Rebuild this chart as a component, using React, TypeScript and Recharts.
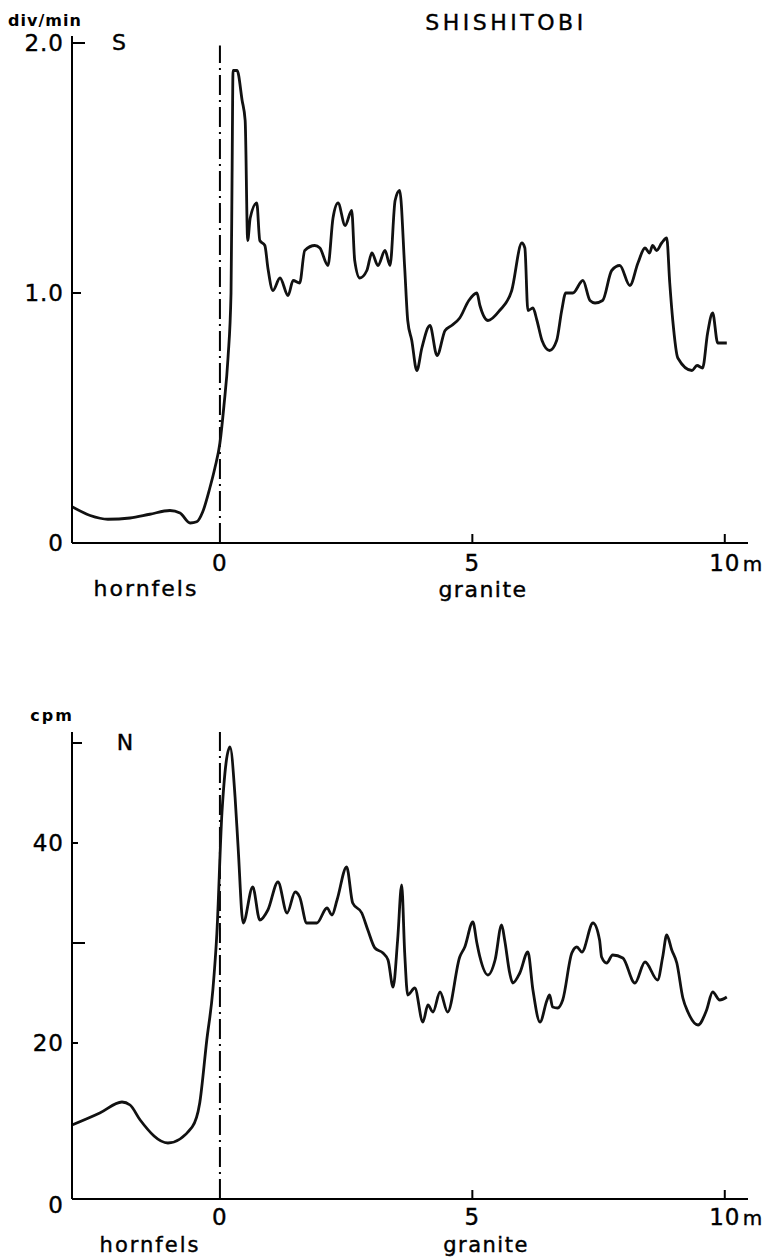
import React from 'react';
import { LineChart, Line, XAxis, YAxis, ReferenceLine } from 'recharts';

// S profile: distance from contact (m) vs rate (div/min)
const sDist = [-2.93, -2.57, -2.22, -1.78, -1.39, -0.99, -0.79, -0.59, -0.46, -0.34, -0.2, -0.1, 0, 0.08, 0.16, 0.22, 0.24, 0.26, 0.34, 0.44, 0.5, 0.55, 0.6, 0.73, 0.79, 0.89, 0.95, 1.05, 1.19, 1.35, 1.45, 1.58, 1.68, 1.88, 1.98, 2.14, 2.24, 2.34, 2.48, 2.61, 2.67, 2.77, 2.91, 3.01, 3.13, 3.27, 3.37, 3.47, 3.56, 3.66, 3.72, 3.8, 3.9, 4.0, 4.16, 4.3, 4.46, 4.59, 4.75, 4.93, 5.09, 5.15, 5.31, 5.54, 5.78, 5.98, 6.04, 6.1, 6.2, 6.28, 6.38, 6.53, 6.67, 6.77, 6.85, 6.99, 7.19, 7.33, 7.43, 7.58, 7.76, 7.92, 8.12, 8.28, 8.42, 8.51, 8.57, 8.65, 8.75, 8.85, 8.91, 8.97, 9.07, 9.35, 9.45, 9.56, 9.66, 9.76, 9.86, 10.04];
const sRate = [0.145, 0.11, 0.095, 0.1, 0.115, 0.13, 0.12, 0.08, 0.085, 0.125, 0.22, 0.3, 0.4, 0.55, 0.74, 1.0, 1.45, 1.89, 1.89, 1.77, 1.69, 1.21, 1.3, 1.36, 1.21, 1.19, 1.1, 1.01, 1.06, 0.99, 1.05, 1.04, 1.17, 1.19, 1.18, 1.11, 1.3, 1.36, 1.27, 1.33, 1.13, 1.06, 1.09, 1.16, 1.11, 1.17, 1.11, 1.37, 1.41, 1.1, 0.89, 0.81, 0.69, 0.78, 0.87, 0.75, 0.85, 0.87, 0.9, 0.97, 1.0, 0.95, 0.89, 0.93, 1.01, 1.2, 1.18, 0.93, 0.94, 0.89, 0.81, 0.77, 0.81, 0.93, 1.0, 1.0, 1.05, 0.97, 0.96, 0.97, 1.09, 1.11, 1.03, 1.12, 1.18, 1.16, 1.19, 1.17, 1.2, 1.22, 1.04, 0.89, 0.74, 0.69, 0.71, 0.7, 0.84, 0.92, 0.8, 0.8];

// N profile: distance (m) vs count rate (cpm)
const nDist = [-2.93, -2.38, -1.94, -1.78, -1.58, -1.03, -0.55, -0.4, -0.26, -0.14, -0.06, 0.04, 0.2, 0.3, 0.36, 0.46, 0.65, 0.79, 0.95, 1.15, 1.33, 1.49, 1.58, 1.72, 1.92, 2.12, 2.22, 2.32, 2.51, 2.63, 2.81, 2.93, 3.07, 3.23, 3.33, 3.43, 3.52, 3.6, 3.66, 3.72, 3.86, 4.02, 4.12, 4.22, 4.36, 4.51, 4.75, 4.85, 5.01, 5.09, 5.15, 5.31, 5.45, 5.58, 5.64, 5.74, 5.8, 5.94, 6.1, 6.2, 6.34, 6.48, 6.53, 6.59, 6.69, 6.79, 6.97, 7.07, 7.17, 7.39, 7.52, 7.56, 7.66, 7.78, 7.98, 8.22, 8.42, 8.67, 8.77, 8.85, 8.95, 9.05, 9.17, 9.27, 9.47, 9.64, 9.76, 9.9, 10.04];
const nCount = [11.8, 13.0, 14.1, 13.8, 12.3, 10.0, 11.6, 14.0, 20.3, 25.3, 31, 43, 49.6, 44.6, 39.6, 32, 35.6, 32.3, 33.3, 36.1, 33, 35.1, 34.6, 32, 32, 33.5, 32.8, 34.3, 37.6, 34, 33, 31.3, 29.5, 29, 28.3, 25.6, 30.3, 35.8, 29, 24.8, 25.5, 22.1, 23.8, 23.1, 25.1, 23.1, 28.6, 29.6, 32.1, 30, 28.6, 26.8, 28.3, 31.8, 30.3, 27, 26, 27, 29.1, 25.3, 22.1, 24.3, 24.8, 23.6, 23.5, 24.3, 29, 29.6, 29.1, 32, 30.3, 28.6, 28, 28.8, 28.5, 26, 28.1, 26.3, 28.6, 30.8, 29.3, 28, 24.5, 23.1, 21.8, 23.3, 25.1, 24.3, 24.6];

const xTicks = [0, 5, 10];
const xTickLabels = ['0', '5', '10'];
const sTicks = [0, 1, 2];
const sTickLabels = ['0', '1.0', '2.0'];
const sTickLen = [0, 9, 13];
// the N axis is drawn with a suppressed origin, as in the original
const nTicks = [4.4, 20, 30, 40, 50];
const nTickLabels = ['0', '20', '', '40', ''];
const nTickLen = [0, 6, 13, 6, 10];

const FONT = '"DejaVu Sans", Verdana, sans-serif';
const AXIS_X = 72;

const sData = sDist.map((x, i) => ({ x, v: sRate[i] }));
const nData = nDist.map((x, i) => ({ x, v: nCount[i] }));

function makeXTick(axisY: number, labelDy: number) {
  return (props: any) => {
    const { x, payload } = props;
    const v = payload.value;
    const label = xTickLabels[xTicks.indexOf(v)];
    return (
      <g>
        {v !== 0 && <line x1={x} x2={x} y1={axisY} y2={axisY - 9} stroke="#000" strokeWidth={2} />}
        <text x={x} y={axisY + labelDy} textAnchor="middle" fontSize={23} fontFamily={FONT} fill="#000" stroke="#000" strokeWidth={0.4} letterSpacing={1}>
          {label}
        </text>
        {v === 10 && (
          <text x={x + 18} y={axisY + labelDy} textAnchor="start" fontSize={20} fontFamily={FONT} fill="#000" stroke="#000" strokeWidth={0.4}>
            m
          </text>
        )}
      </g>
    );
  };
}

function makeYTick(ticks: number[], labels: string[], lens: number[], zeroDy: number) {
  return (props: any) => {
    const { y, payload } = props;
    const i = ticks.indexOf(payload.value);
    const dy = i === 0 ? zeroDy : 0;
    return (
      <g>
        {lens[i] > 0 && <line x1={AXIS_X} x2={AXIS_X + lens[i]} y1={y} y2={y} stroke="#000" strokeWidth={2} />}
        <text x={64} y={y + 8 + dy} textAnchor="end" fontSize={23} fontFamily={FONT} fill="#000" stroke="#000" strokeWidth={0.4} letterSpacing={1}>
          {labels[i]}
        </text>
      </g>
    );
  };
}

function Txt({ x, y, size, children, bold, ls }: any) {
  return (
    <div
      style={{
        position: 'absolute',
        left: x,
        top: y,
        transform: 'translate(-50%, -50%)',
        fontFamily: FONT,
        fontSize: size,
        fontWeight: bold ? 'bold' : 'normal',
        letterSpacing: ls || 0,
        lineHeight: 1,
        whiteSpace: 'nowrap',
        color: '#000',
        WebkitTextStroke: bold ? '0' : '0.4px #000',
      }}
    >
      {children}
    </div>
  );
}

export default function App() {
  const axisStyle = { stroke: '#000', strokeWidth: 2 };
  return (
    <div style={{ position: 'absolute', left: 0, top: 0, width: 767, height: 1258, background: '#fff' }}>
      <div style={{ position: 'absolute', left: 0, top: 0 }}>
        <LineChart width={767} height={620} data={sData} margin={{ top: 36, right: 19, left: 0, bottom: 0 }}>
          <XAxis
            type="number"
            dataKey="x"
            domain={[-2.93, 10.46]}
            ticks={xTicks}
            interval={0}
            allowDataOverflow
            tickLine={false}
            axisLine={axisStyle}
            tick={makeXTick(543, 28)}
            height={77}
          />
          <YAxis
            type="number"
            domain={[0, 2.028]}
            ticks={sTicks}
            interval={0}
            allowDataOverflow
            tickLine={false}
            axisLine={axisStyle}
            tick={makeYTick(sTicks, sTickLabels, sTickLen, 0)}
            width={72}
          />
          <ReferenceLine
            segment={[{ x: 0, y: 0 }, { x: 0, y: 1.99 }]}
            stroke="#000"
            strokeWidth={2}
            strokeDasharray="20 5 2 5"
          />
          <Line type="monotone" dataKey="v" stroke="#111" strokeWidth={2.8} dot={false} isAnimationActive={false} />
        </LineChart>
      </div>

      <div style={{ position: 'absolute', left: 0, top: 640 }}>
        <LineChart width={767} height={618} data={nData} margin={{ top: 92, right: 19, left: 0, bottom: 0 }}>
          <XAxis
            type="number"
            dataKey="x"
            domain={[-2.93, 10.46]}
            ticks={xTicks}
            interval={0}
            allowDataOverflow
            tickLine={false}
            axisLine={axisStyle}
            tick={makeXTick(559, 26)}
            height={59}
          />
          <YAxis
            type="number"
            domain={[4.4, 51.1]}
            ticks={nTicks}
            interval={0}
            allowDataOverflow
            tickLine={false}
            axisLine={axisStyle}
            tick={makeYTick(nTicks, nTickLabels, nTickLen, 6)}
            width={72}
          />
          <ReferenceLine x={0} stroke="#000" strokeWidth={2} strokeDasharray="20 5 2 5" />
          <Line type="monotone" dataKey="v" stroke="#111" strokeWidth={2.8} dot={false} isAnimationActive={false} />
        </LineChart>
      </div>

      <Txt x={45} y={21} size={16} bold ls={1}>div/min</Txt>
      <Txt x={119} y={43} size={22}>S</Txt>
      <Txt x={506} y={23} size={22} ls={3.5}>SHISHITOBI</Txt>
      <Txt x={146} y={589} size={22} ls={2}>hornfels</Txt>
      <Txt x={483} y={590} size={22} ls={1.5}>granite</Txt>

      <Txt x={52} y={716} size={16} bold ls={2}>cpm</Txt>
      <Txt x={125} y={743} size={22}>N</Txt>
      <Txt x={150} y={1245} size={21} ls={2}>hornfels</Txt>
      <Txt x={486} y={1245} size={21} ls={1.5}>granite</Txt>
    </div>
  );
}
